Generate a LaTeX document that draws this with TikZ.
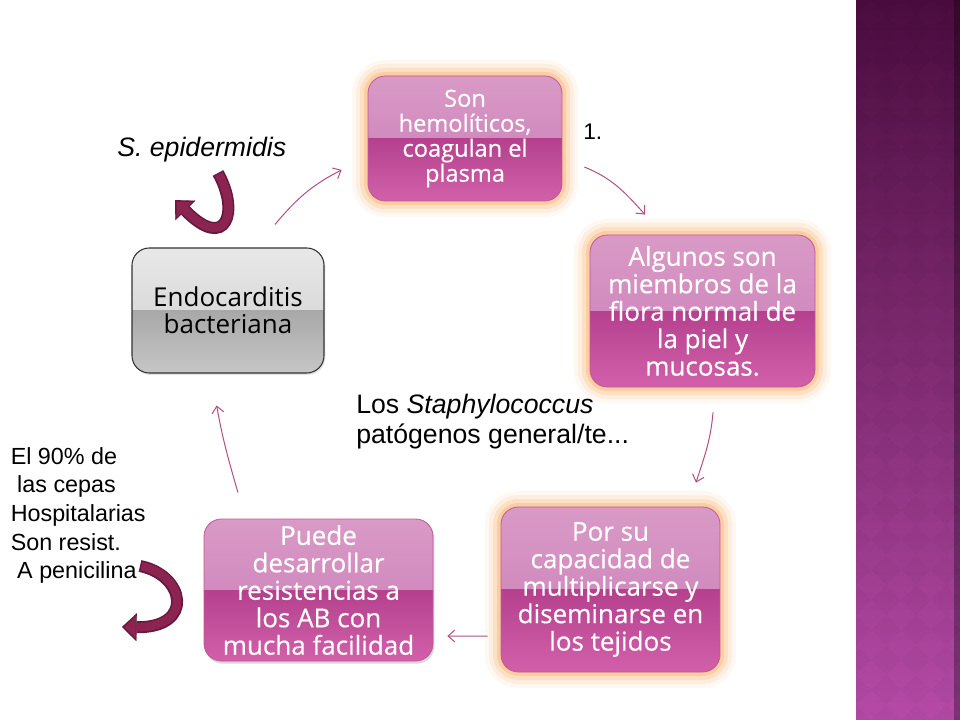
\documentclass[tikz,border=0pt]{standalone}
\usepackage{fontspec}
\setmainfont{Liberation Sans}
\newfontfamily\cyclefont[FakeBold=0.5]{Open Sans}
\newfontfamily\grayfont{Open Sans}
\usepackage{tikz}
\usetikzlibrary{arrows.meta,shapes,positioning,shadows}
\usepackage{xcolor}
\definecolor{slpinktop}{RGB}{217,154,198}
\definecolor{slpinkmid}{RGB}{201,124,183}
\definecolor{slpinklow}{RGB}{181,65,142}
\definecolor{slpinkbot}{RGB}{209,96,169}
\definecolor{slpinkedge}{RGB}{192,88,152}
\definecolor{slgraytop}{RGB}{232,232,232}
\definecolor{slgraymid}{RGB}{205,205,205}
\definecolor{slgraylow}{RGB}{168,168,168}
\definecolor{slgraybot}{RGB}{198,198,198}
\definecolor{slglow}{RGB}{252,178,105}
\definecolor{slarrow}{RGB}{176,80,130}
\definecolor{slbendfill}{RGB}{140,36,82}
\definecolor{slbenddark}{RGB}{104,24,60}
\definecolor{slstriptop}{RGB}{74,12,62}
\definecolor{slstripbot}{RGB}{181,74,166}
\tikzstyle{pinkbox} = [rectangle, rounded corners=13pt, draw=slpinkedge, line width=0.6pt, text=white, align=center, inner sep=2pt, font=\cyclefont\fontsize{19.5}{20.6}\selectfont,
  path picture={
    \shade[sharp corners, top color=slpinktop, bottom color=slpinkmid] (path picture bounding box.north west) rectangle (path picture bounding box.east);
    \shade[sharp corners, top color=slpinklow, bottom color=slpinkbot] (path picture bounding box.west) rectangle (path picture bounding box.south east);}]
\tikzstyle{graybox} = [rectangle, rounded corners=13pt, draw=black!80, line width=0.8pt, text=black, align=center, inner sep=2pt, font=\grayfont\fontsize{19.5}{20.3}\selectfont,
  path picture={
    \shade[sharp corners, top color=slgraytop, bottom color=slgraymid] (path picture bounding box.north west) rectangle (path picture bounding box.east);
    \shade[sharp corners, top color=slgraylow, bottom color=slgraybot] (path picture bounding box.west) rectangle (path picture bounding box.south east);}]
\tikzstyle{glow} = [preaction={draw=slglow, line width=24pt, opacity=0.08}, preaction={draw=slglow, line width=18pt, opacity=0.14}, preaction={draw=slglow, line width=12pt, opacity=0.22}, preaction={draw=slglow, line width=6pt, opacity=0.4}]
\tikzstyle{cyclearrow} = [draw=slarrow, line width=0.75pt, -{Straight Barb[length=5pt,width=9pt]}]
\tikzstyle{bendouter} = [draw=slbenddark, line width=9pt, -{Triangle[length=11pt,width=21pt,line width=0.1pt]}]
\tikzstyle{bendinner} = [draw=slbendfill, line width=6.5pt, shorten <=1pt, shorten >=1.8pt, -{Triangle[length=8.5pt,width=16.5pt,line width=0.1pt]}]

\begin{document}
\begin{tikzpicture}[x=0.75pt, y=0.75pt]
\useasboundingbox (0,0) rectangle (960,-720);
\fill[white] (0,0) rectangle (960,-720);

% Side strip
\shade[top color=slstriptop, bottom color=slstripbot] (856,0) rectangle (960,-720);
\begin{scope}
\clip (856,0) rectangle (960,-720);
\foreach \i in {0,...,4}
  \foreach \j in {0,...,24}
    \fill[black, opacity=0.025] (856+30*\i,-30*\j) ++(0,15) -- ++(15,-15) -- ++(-15,-15) -- ++(-15,15) -- cycle;
\end{scope}
\fill[black, opacity=0.3] (954,0) rectangle (960,-720);

% Cycle nodes
\node[pinkbox, glow, minimum width=145.5pt, minimum height=93.75pt, font=\cyclefont\fontsize{17.7}{18.75}\selectfont] (son) at (465,-138.5) {Son\\hemolíticos,\\coagulan el\\plasma};
\node[pinkbox, glow, minimum width=168.75pt, minimum height=114pt] (algunos) at (702.5,-311) {Algunos son\\miembros de la\\flora normal de\\la piel y\\mucosas.};
\node[pinkbox, glow, minimum width=164.25pt, minimum height=123.75pt] (porsu) at (610.5,-589.5) {Por su\\capacidad de\\multiplicarse y\\diseminarse en\\los tejidos};
\node[pinkbox, drop shadow={opacity=0.3, shadow xshift=1pt, shadow yshift=-2pt}, minimum width=171.75pt, minimum height=106.5pt] (puede) at (318.5,-590) {Puede\\desarrollar\\resistencias a\\los AB con\\mucha facilidad};
\node[graybox, drop shadow={opacity=0.2, shadow xshift=1pt, shadow yshift=-1.5pt}, minimum width=144pt, minimum height=93.75pt] (endo) at (228,-310.5) {Endocarditis\\bacteriana};

% Connections between the steps
\draw[cyclearrow] ([xshift=35.25pt, yshift=17.25pt]endo.north) to[out=50, in=207] ([xshift=-19.5pt, yshift=-23.6pt]son.west);
\draw[cyclearrow] ([xshift=16.5pt, yshift=-21.4pt]son.east) to[out=-22, in=132] ([xshift=-43.1pt, yshift=15pt]algunos.north);
\draw[cyclearrow] ([xshift=7.9pt, yshift=-18.75pt]algunos.south) to[out=-95, in=72] ([xshift=64.1pt, yshift=18pt]porsu.north);
\draw[cyclearrow] ([xshift=-9.75pt, yshift=-34.9pt]porsu.west) -- ([xshift=10.5pt, yshift=-34.5pt]puede.east);
\draw[cyclearrow] ([xshift=-60.4pt, yshift=19.5pt]puede.north) to[out=106, in=-80] ([xshift=-8.5pt, yshift=-24pt]endo.south);

% Free labels
\node[anchor=base west, inner sep=0pt, font=\itshape\fontsize{20}{23}\selectfont] (epi) at (117,-157) {S. epidermidis};
\node[anchor=base west, inner sep=0pt, font=\fontsize{17}{20}\selectfont] (uno) at (583,-140) {1.};
\node[anchor=north west, inner sep=0pt, align=left, font=\fontsize{20}{22.5}\selectfont] (staph) at (356,-394) {Los \textit{Staphylococcus}\\patógenos general/te...};
\node[anchor=north west, inner sep=0pt, align=left, font=\fontsize{17.5}{21.5}\selectfont] (cepas) at (10.5,-447) {El 90\% de\\\ las cepas\\Hospitalarias\\Son resist.\\\ A penicilina};

% Curved block arrows
\draw[bendouter] (218,-173) .. controls (240,-212) and (226,-252) .. (175,-200);
\draw[bendinner] (218,-173) .. controls (240,-212) and (226,-252) .. (175,-200);
\draw[bendouter] (140,-566) .. controls (185,-575) and (195,-628) .. (122,-627);
\draw[bendinner] (140,-566) .. controls (185,-575) and (195,-628) .. (122,-627);
\end{tikzpicture}
\end{document}
